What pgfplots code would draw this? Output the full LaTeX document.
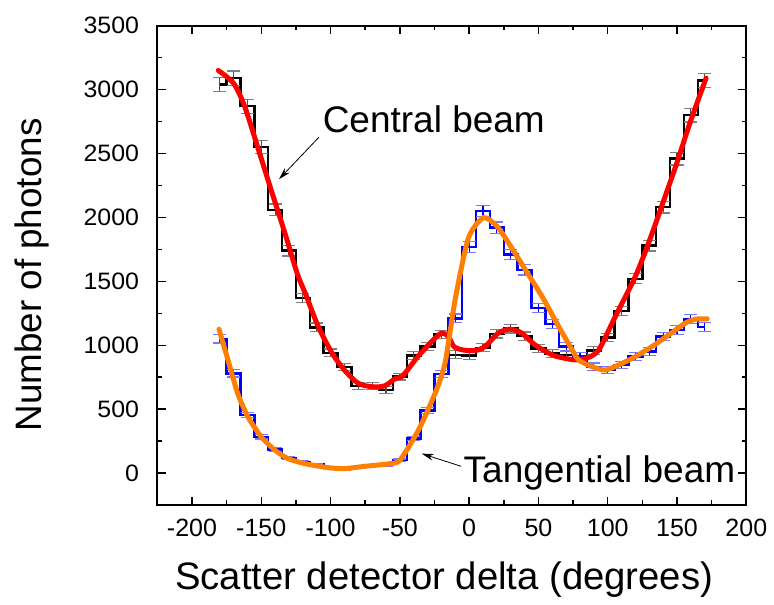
\documentclass[border=0pt]{standalone}
\usepackage{pgfplots}
\usepackage{pgfplotstable}
\pgfplotsset{compat=1.18}
\usepackage{fontspec}
\setmainfont{Liberation Sans}
\newfontfamily\ytickfont{Liberation Sans}[FakeStretch=1.05]
\usetikzlibrary{arrows.meta}

\definecolor{fitorange}{RGB}{255,128,0}
\definecolor{barblue}{RGB}{120,120,255}

% Central beam: counts per 10-degree bin with statistical errors
\pgfplotstableread{
x y e
-180 3040 55
-170 3090 56
-160 2870 54
-150 2550 50
-140 2060 45
-130 1740 42
-120 1370 37
-110 1140 34
-100 940 31
-90 830 29
-80 680 26
-70 680 26
-60 650 26
-50 755 27
-40 920 30
-30 990 31
-20 1085 33
-10 925 31
0 920 31
10 980 31
20 1090 33
30 1130 34
40 1070 33
50 975 31
60 935 31
70 925 30
80 915 30
90 960 31
100 1060 33
110 1270 36
120 1520 39
130 1780 42
140 2080 46
150 2460 50
160 2800 53
170 3070 55
}\central

% Tangential beam
\pgfplotstableread{
x y e
-180 1050 32
-170 780 28
-160 453 21
-150 283 17
-140 185 14
-130 118 11
-120 87 9
-110 67 8
-100 40 6
-90 30 6
-80 42 6
-70 60 8
-60 62 8
-50 100 10
-40 270 16
-30 490 22
-20 775 28
-10 1210 35
0 1770 42
10 2050 45
20 1920 44
30 1710 41
40 1590 40
50 1290 36
60 1165 34
70 990 31
80 911 30
90 832 29
100 806 28
110 846 29
120 911 30
130 950 31
140 1068 33
150 1120 33
160 1207 35
170 1142 34
}\tangential

\begin{document}
\begin{tikzpicture}
\useasboundingbox (-117.975pt,-74.25pt) rectangle (462.525pt,378.75pt);
\begin{axis}[
  at={(0,0)}, anchor=south west,
  scale only axis, width=441.75pt, height=359.475pt,
  xmin=-225, xmax=200, ymin=-250, ymax=3500,
  xtick={-200,-150,-100,-50,0,50,100,150,200},
  ytick={0,500,1000,1500,2000,2500,3000,3500},
  xticklabels={-200,-150,-100,-50,0,50,100,150,200},
  yticklabels={0,500,1000,1500,2000,2500,3000,3500},
  minor x tick num=1, minor y tick num=1,
  tick align=inside,
  major tick length=6.2pt, minor tick length=3.4pt,
  axis line style={line width=1.5pt},
  tick style={black, line width=1.1pt},
  xticklabel style={font=\fontsize{18.75}{20}\selectfont, anchor=north, inner sep=0pt, yshift=-10pt},
  yticklabel style={font=\ytickfont\fontsize{17.8}{20}\selectfont, anchor=east, inner sep=0pt, xshift=-13.5pt},
  clip=false,
]

% measured histograms
\addplot[black, line width=1.8pt, line join=miter, const plot mark mid,
  error bars/.cd, y dir=both, y explicit,
  error bar style={black!70, line width=0.9pt},
  error mark options={black!50, rotate=90, mark size=4.9pt, line width=0.9pt}]
  table[x=x, y=y, y error=e] {\central};

\addplot[blue, line width=1.8pt, line join=miter, const plot mark mid,
  error bars/.cd, y dir=both, y explicit,
  error bar style={blue, line width=0.9pt},
  error mark options={barblue, rotate=90, mark size=4.9pt, line width=0.9pt}]
  table[x=x, y=y, y error=e] {\tangential};

% fitted curves
\addplot[red, line width=3.75pt, line cap=round, smooth, tension=0.45] coordinates {
(-181,3150) (-170,3050) (-162,2870) (-152,2530) (-143,2220) (-133,1880)
(-124,1560) (-118,1400) (-109,1150) (-99,940) (-90,806) (-80,702)
(-70,675) (-61,682) (-53,741) (-48,760) (-37,911) (-27,1029)
(-20,1095) (-15,1068) (-11,990) (-5,964) (4,958) (11.5,990)
(21,1095) (29.5,1126) (38,1095) (47.5,1003) (60,924) (69,898)
(77,885) (85,900) (93.5,963) (105.5,1225) (120,1540) (130,1815)
(140,2120) (150,2430) (160,2760) (171,3090)
};

\addplot[fitorange, line width=3.75pt, line cap=round, smooth, tension=0.4] coordinates {
(-180.5,1125) (-174,885) (-167,623) (-159.6,440) (-150,283) (-140,178)
(-130.7,113) (-118.6,74) (-101.7,42) (-89.7,35) (-75,53) (-58.3,72)
(-50,100) (-36.6,335) (-24.6,623) (-17.4,859) (-10.1,1356) (-0.5,1840)
(10.3,1998) (20,1932) (28.4,1801) (40.5,1592) (52.6,1382) (64.6,1147)
(74.3,964) (79,885) (88.7,832) (98.3,806) (108,846) (120,911)
(132,990) (144,1081) (156,1173) (163.4,1204) (171.8,1207)
};

% annotations
\draw[line width=0.6pt, -{Stealth[length=9pt, width=5pt]}] (axis cs:-108.5,2626) -- (axis cs:-137.2,2299);
\draw[line width=0.6pt, -{Stealth[length=9pt, width=5pt]}] (axis cs:-5.8,53) -- (axis cs:-34.2,152);
\node[anchor=base west, inner sep=0pt, font=\fontsize{27.75}{30}\selectfont] at (axis cs:-105.8,2664) {Central beam};
\node[anchor=base west, inner sep=0pt, font=\fontsize{27.75}{30}\selectfont] at (axis cs:-4.1,-71) {Tangential beam};

% axis titles
\node[rotate=90, anchor=base, inner sep=0pt, font=\fontsize{27.6}{30}\selectfont] at (rel axis cs:-0.1958,0.4799) {Number of photons};
\node[anchor=base, inner sep=0pt, font=\fontsize{28.7}{31}\selectfont] at (rel axis cs:0.487,-0.1753) {Scatter detector delta (degrees)};
\end{axis}
\end{tikzpicture}
\end{document}
